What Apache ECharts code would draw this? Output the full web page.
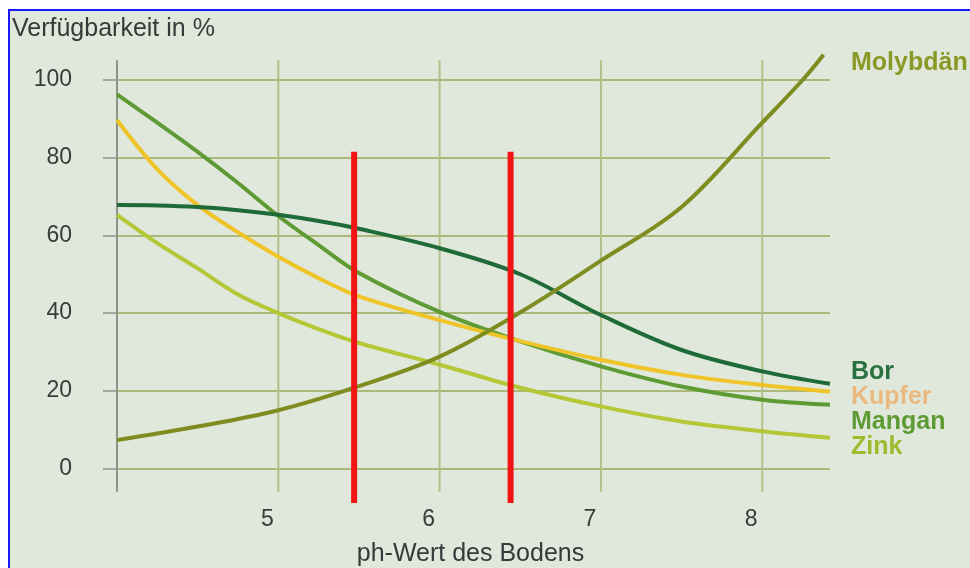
<!DOCTYPE html>
<html><head><meta charset="utf-8">
<script src="https://cdn.jsdelivr.net/npm/echarts@6/dist/echarts.min.js"></script>
<style>html,body{margin:0;padding:0;background:#fff}#c{width:970px;height:568px}</style>
</head><body><div id="c"></div>
<script>
// ---- data ----
const phPoints = [4, 4.25, 4.5, 4.75, 5, 5.25, 5.5, 6, 6.5, 7, 7.5, 8, 8.42];
const bor      = [67.8, 67.7, 67.3, 66.5, 65.3, 63.7, 61.7, 56.7, 50, 39.5, 30.5, 25, 21.8];
const kupfer   = [89.7, 77, 67.8, 60.8, 54.5, 49, 44.3, 38.2, 32.8, 28, 24.1, 21.5, 19.8];
const mangan   = [96.3, 89, 81.5, 73.5, 65, 57.5, 50.3, 40.3, 32.7, 26.3, 21.1, 17.7, 16.4];
const zink     = [65.3, 58, 51.5, 44.8, 40, 35.9, 32.3, 26.7, 20.8, 16, 12.1, 9.6, 7.9];
const molyPh   = [4, 4.5, 5, 5.5, 6, 6.5, 7, 7.5, 8, 8.25, 8.38];
const molybdaen= [7.3, 10.8, 15, 21.2, 28.8, 40.2, 53.5, 67.3, 89, 100, 106.5];
const phMarks  = [5.47, 6.44];          // red vertical markers
const markRange = [-8.9, 81.5];         // their extent in % units
const gridPh   = [4, 5, 6, 7, 8];       // vertical guide lines
const gridSpan = [-6, 105.1];
const names    = ['Molybdän', 'Bor', 'Kupfer', 'Mangan', 'Zink'];
const titleText = 'Verfügbarkeit in %';
const xName = 'ph-Wert des Bodens';

const lineColors  = {Molybdän:'#7f8c1f', Bor:'#1f6b38', Kupfer:'#efc428', Mangan:'#5f9b35', Zink:'#b4c736'};
const labelColors = {Molybdän:'#8a9826', Bor:'#2a7040', Kupfer:'#eab97f', Mangan:'#5f9b35', Zink:'#9dbb2e'};
const labelY      = {Molybdän:65, Bor:374, Kupfer:399, Mangan:424, Zink:449};
const FONT = '"Liberation Sans", Arial, sans-serif';

const seriesData = {
  'Molybdän': molyPh.map((x, i) => [x, molybdaen[i]]),
  'Bor': phPoints.map((x, i) => [x, bor[i]]),
  'Kupfer': phPoints.map((x, i) => [x, kupfer[i]]),
  'Mangan': phPoints.map((x, i) => [x, mangan[i]]),
  'Zink': phPoints.map((x, i) => [x, zink[i]])
};

const chart = echarts.init(document.getElementById('c'), null, {renderer: 'canvas'});

const lineSeries = ['Zink', 'Mangan', 'Kupfer', 'Bor', 'Molybdän'].map(n => ({
  name: n, type: 'line', data: seriesData[n], smooth: 0.35,
  showSymbol: false, clip: false, z: 3,
  lineStyle: {color: lineColors[n], width: 4}, itemStyle: {color: lineColors[n]}
}));

chart.setOption({
  backgroundColor: '#ffffff',
  animation: false,
  title: {text: titleText, left: 12, top: 17, padding: 0,
    textStyle: {fontFamily: FONT, fontSize: 25, fontWeight: 'normal', color: '#383838'}},
  graphic: [
    {type: 'rect', z: -100, silent: true, shape: {x: 9, y: 10, width: 990, height: 600},
     style: {fill: '#e0e8dc', stroke: '#1a1aff', lineWidth: 2}}
  ].concat(names.map(n => ({
    type: 'text', left: 851, top: labelY[n] - 14, z: 100,
    style: {text: n, fill: labelColors[n], font: 'bold 25px ' + FONT}
  }))),
  grid: {left: 117, right: 140, top: 80, bottom: 99.5, containLabel: false, outerBoundsMode: 'none'},
  xAxis: {
    type: 'value', min: 4, max: 8.42, interval: 1,
    name: xName, nameLocation: 'middle', nameGap: 73,
    nameTextStyle: {fontFamily: FONT, fontSize: 25, color: '#383838', padding: [0, 6, 0, 0]},
    axisLine: {show: false}, axisTick: {show: false}, splitLine: {show: false},
    axisLabel: {showMinLabel: false, showMaxLabel: false, margin: 40, padding: [0, 22, 0, 0],
      fontFamily: FONT, fontSize: 23, color: '#3a3a3a'}
  },
  yAxis: {
    type: 'value', min: 0, max: 100, interval: 20,
    axisLine: {show: true, lineStyle: {color: '#8f9488', width: 1.5}},
    axisTick: {show: true, length: 14, lineStyle: {color: '#8f9488', width: 1.5}},
    splitLine: {show: true, lineStyle: {color: '#aab87a', width: 2}},
    axisLabel: {margin: 45, fontFamily: FONT, fontSize: 23, color: '#3a3a3a'}
  },
  series: [
    {
      type: 'custom', name: 'guides', z: 1, clip: false, silent: true,
      data: gridPh.map(x => [x, gridSpan[0], gridSpan[1]]),
      renderItem: (params, api) => {
        const x = api.value(0);
        const p0 = api.coord([x, api.value(1)]);
        const p1 = api.coord([x, api.value(2)]);
        return {type: 'line', shape: {x1: p0[0], y1: p0[1], x2: p1[0], y2: p1[1]},
          style: {stroke: x === gridPh[0] ? '#8f9488' : '#b3bf88', lineWidth: 2}};
      }
    }
  ].concat(lineSeries).concat([
    {
      type: 'custom', name: 'marks', z: 10, clip: false, silent: true,
      data: phMarks.map(x => [x, markRange[0], markRange[1]]),
      renderItem: (params, api) => {
        const x = api.value(0);
        const p0 = api.coord([x, api.value(1)]);
        const p1 = api.coord([x, api.value(2)]);
        return {type: 'line', shape: {x1: p0[0], y1: p0[1], x2: p1[0], y2: p1[1]},
          style: {stroke: '#f01414', lineWidth: 6}};
      }
    }
  ])
});
</script></body></html>
